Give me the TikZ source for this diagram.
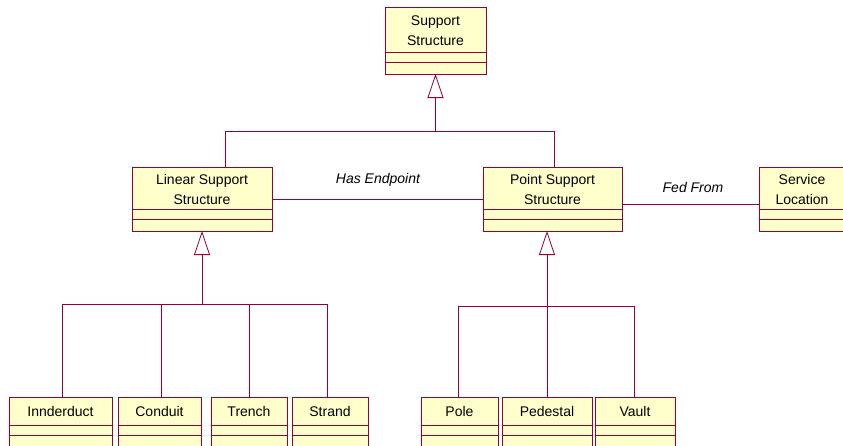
\documentclass[tikz,border=0pt]{standalone}
\usepackage{fontspec}
\setmainfont{Liberation Sans}
\usetikzlibrary{arrows.meta}
\definecolor{umlred}{HTML}{990033}
\definecolor{umlfill}{HTML}{FFFFCC}
\tikzset{
  cls/.style={draw=umlred, fill=umlfill, line width=1pt, inner sep=0pt, outer sep=0pt, rectangle},
  sep/.style={draw=umlred, line width=0.9pt},
  conn/.style={draw=umlred, line width=0.8pt},
  gen/.style={conn, -{Triangle[open, length=24pt, width=16pt, fill=white]}},
  txt/.style={font=\fontsize{14}{20}\selectfont, align=center, inner sep=0pt, text=black},
  lbl/.style={font=\fontsize{14}{16}\selectfont\itshape, inner sep=0pt, text=black}
}
\newcommand\umlbox[7]{%
  \node[cls, anchor=north west, minimum width={#4pt-#2pt}, minimum height={#5pt-#3pt}] (#1) at (#2,#3) {};
  \draw[sep] ([yshift=22pt]#1.south west) -- ([yshift=22pt]#1.south east);
  \draw[sep] ([yshift=12pt]#1.south west) -- ([yshift=12pt]#1.south east);
  \node[txt] (#1-t) at ([yshift=-#6pt]#1.north) {#7};
}
\begin{document}
\begin{tikzpicture}[x=1pt, y=-1pt]
\clip (0,0) rectangle (843,445);
\useasboundingbox (0,0) rectangle (843,445);
\fill[white] (0,0) rectangle (843,445);

% classes
\umlbox{ss}{385}{7}{486}{74}{24}{Support\\Structure}
\umlbox{ls}{132}{167}{272}{231}{22}{Linear Support\\Structure}
\umlbox{ps}{483}{167}{622}{231}{22}{Point Support\\Structure}
\umlbox{sl}{759}{167}{845}{231}{22}{Service\\Location}
\umlbox{in}{9}{397}{112}{447}{14}{Innderduct}
\umlbox{co}{118}{397}{201}{447}{14}{Conduit}
\umlbox{tr}{211}{397}{287}{447}{14}{Trench}
\umlbox{st}{292}{397}{368}{447}{14}{Strand}
\umlbox{po}{421}{397}{498}{447}{14}{Pole}
\umlbox{pe}{502}{397}{592}{447}{14}{Pedestal}
\umlbox{va}{595}{397}{675}{447}{14}{Vault}

% top generalization
\coordinate (jt) at (435.5,131);
\coordinate (a1) at (225,131);
\coordinate (a2) at (554,131);
\draw[conn] (a1 |- ls.north) -- (a1) -- (a2) -- (a2 |- ps.north);
\draw[gen] (jt) -- (jt |- ss.south);

% linear generalization
\coordinate (jl) at (202,304);
\coordinate (l1) at (62,304);
\coordinate (l2) at (161,304);
\coordinate (l3) at (249,304);
\coordinate (l4) at (327,304);
\draw[conn] (l1) -- (l4);
\draw[conn] (l1) -- (l1 |- in.north);
\draw[conn] (l2) -- (l2 |- co.north);
\draw[conn] (l3) -- (l3 |- tr.north);
\draw[conn] (l4) -- (l4 |- st.north);
\draw[gen] (jl) -- (jl |- ls.south);

% point generalization
\coordinate (jp) at (547,306);
\coordinate (p1) at (458,306);
\coordinate (p3) at (634,306);
\draw[conn] (p1) -- (p3);
\draw[conn] (p1) -- (p1 |- po.north);
\draw[conn] (jp) -- (jp |- pe.north);
\draw[conn] (p3) -- (p3 |- va.north);
\draw[gen] (jp) -- (jp |- ps.south);

% associations
\draw[conn] (ls.east) -- (ps.west);
\node[lbl] (he) at (378,180) {Has Endpoint};
\coordinate (f1) at (622,204);
\draw[conn] (f1) -- (f1 -| sl.west);
\node[lbl] (ff) at (693,187) {Fed From};
\end{tikzpicture}
\end{document}
